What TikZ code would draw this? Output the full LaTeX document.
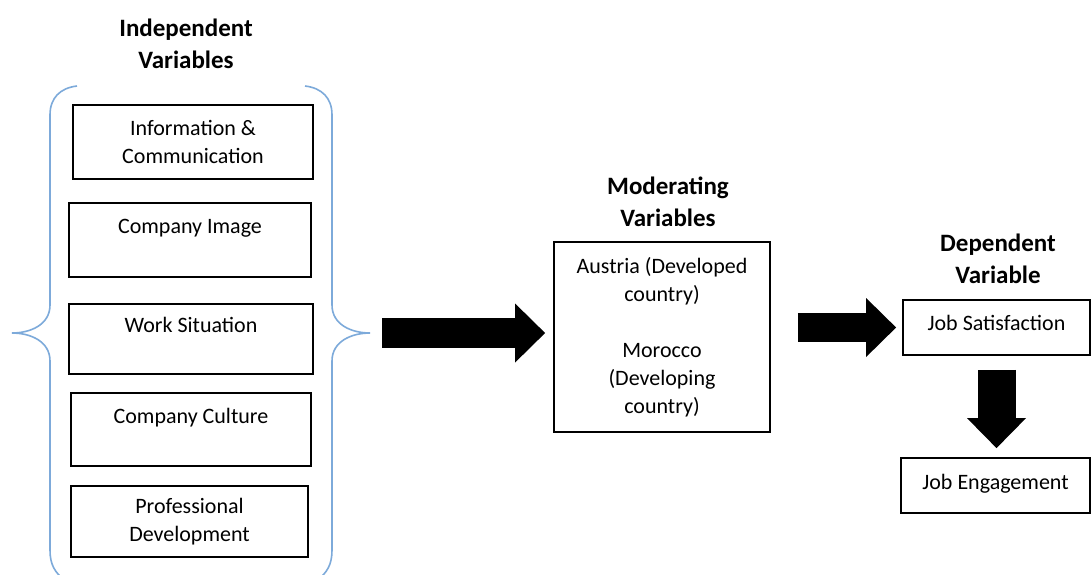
\documentclass[tikz,border=0pt]{standalone}
\usepackage{fontspec}
\setmainfont{Carlito}
\usetikzlibrary{arrows.meta}
\definecolor{bracecol}{RGB}{125,170,218}

\begin{document}
\begin{tikzpicture}[x=0.5pt, y=-0.5pt,
    box/.style={draw, line width=0.9pt, align=center, inner sep=0pt,
      font=\fontsize{11}{14}\selectfont},
    head/.style={align=center, font=\fontsize{12.5}{16}\selectfont\bfseries},
    brace/.style={draw=bracecol, line width=0.8pt},
    fat/.style={line width=#1, -{Triangle[length=15pt, width=29.5pt, line width=0pt]}}]
  \useasboundingbox (0,0) rectangle (1091,574);

  % headings
  \node[head] (tind) at (186,44) {Independent\\Variables};
  \node[head] (tmod) at (668,202) {Moderating\\Variables};
  \node[head] (tdep) at (998,259) {Dependent\\Variable};

  % independent variables
  \node[box, minimum width=120pt, minimum height=37pt] (ic) at (193,142) {Information \&\\Communication};
  \node[box, minimum width=121pt, minimum height=37pt] (img) at (190,240) {Company Image\\\mbox{}};
  \node[box, minimum width=122pt, minimum height=35pt] (ws) at (191,339) {Work Situation\\\mbox{}};
  \node[box, minimum width=120pt, minimum height=36.5pt] (cc) at (191,429.5) {Company Culture\\\mbox{}};
  \node[box, minimum width=118.5pt, minimum height=35.5pt] (pd) at (189.5,521.5) {Professional\\Development};

  % braces
  \coordinate (brace-l) at (12,333);
  \coordinate (brace-r) at (370,333);
  \draw[brace] (77,86) .. controls (60,88) and (50,98) .. (50,115) -- (50,305)
    .. controls (50,325) and (30,333) .. (brace-l)
    .. controls (30,333) and (50,341) .. (50,361) -- (50,550)
    .. controls (50,565) and (55,572) .. (64,580);
  \draw[brace] (305,86) .. controls (322,88) and (332,98) .. (332,115) -- (332,305)
    .. controls (332,325) and (352,333) .. (brace-r)
    .. controls (352,333) and (332,341) .. (332,361) -- (332,550)
    .. controls (332,565) and (327,572) .. (318,580);

  % moderating and dependent variables
  \node[box, minimum width=108pt, minimum height=95pt] (mod) at (662,337)
    {Austria (Developed\\country)\\[14pt]Morocco\\(Developing\\country)};
  \node[box, minimum width=93.5pt, minimum height=27.5pt, text depth=5pt] (sat) at (996.5,327.5) {Job Satisfaction};
  \node[box, minimum width=94.5pt, minimum height=27.5pt, text depth=4pt] (eng) at (995.5,485.5) {Job Engagement};

  \draw[fat=15pt, shorten <=6pt, shorten >=4pt] (brace-r) -- (brace-r -| mod.west);
  \draw[fat=14.5pt, shorten <=13.5pt, shorten >=3pt] (mod.east |- sat.west) -- (sat.west);
  \draw[fat=19pt, shorten <=7pt, shorten >=4.5pt] (sat.south) -- (sat.south |- eng.north);
\end{tikzpicture}
\end{document}
